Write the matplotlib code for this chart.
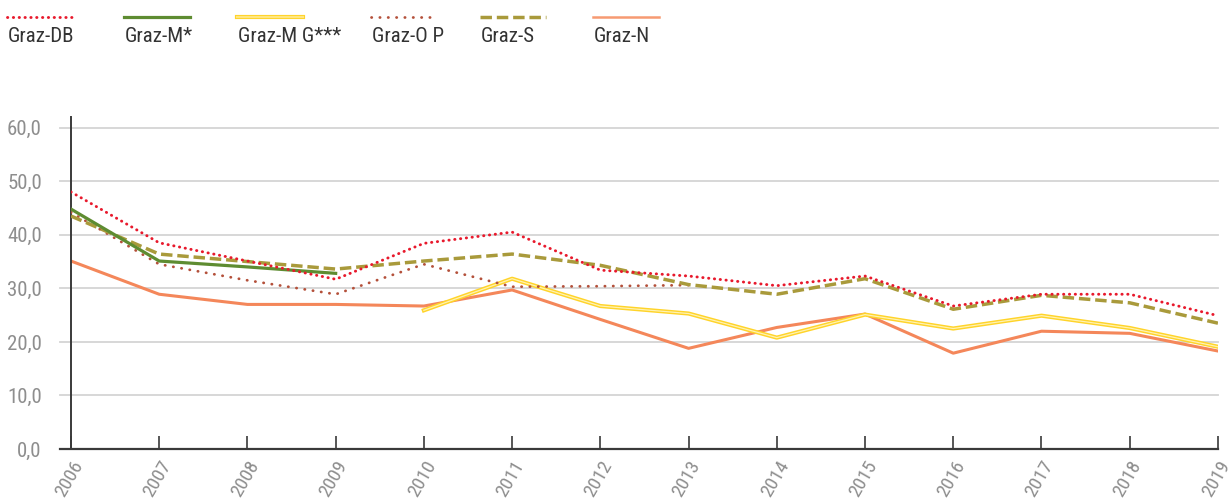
import matplotlib
matplotlib.use("Agg")
import matplotlib.pyplot as plt
from matplotlib.lines import Line2D
from matplotlib.ticker import FuncFormatter

plt.rcParams['font.family'] = ['Roboto Condensed', 'DejaVu Sans']

# Werte
years = list(range(2006, 2020))
graz_db = [48.0, 38.5, 35.1, 31.7, 38.4, 40.5, 33.4, 32.3, 30.5, 32.3, 26.7, 28.9, 28.9, 24.9]
graz_m = [44.8, 35.1, 34.0, 32.8]
graz_mg = [25.9, 31.8, 26.7, 25.3, 20.8, 25.1, 22.5, 24.9, 22.6, 19.1]
graz_op = [44.2, 34.5, 31.5, 28.9, 34.5, 30.3, 30.4, 30.6]
graz_s = [43.5, 36.4, 35.0, 33.6, 35.1, 36.4, 34.3, 30.7, 28.9, 31.8, 26.1, 28.7, 27.3, 23.5]
graz_n = [35.1, 28.9, 27.0, 27.0, 26.7, 29.7, 24.2, 18.8, 22.7, 25.2, 17.9, 22.0, 21.6, 18.3]
labels = ['Graz-DB', 'Graz-M*', 'Graz-M G***', 'Graz-O P', 'Graz-S', 'Graz-N']
yticks = [0, 10, 20, 30, 40, 50, 60]

# Linienstile je Messstelle
styles = [
    dict(color='#E8192C', lw=2.1, ls=(0, (0.1, 1.9)), dash_capstyle='round'),
    dict(color='#5E8C31', lw=2.3, ls='-'),
    dict(color='#FFD42A', lw=3.0, ls='-'),
    dict(color='#B4503A', lw=2.0, ls=(0, (0.1, 2.9)), dash_capstyle='round'),
    dict(color='#A99A3B', lw=2.5, ls=(0, (3.3, 1.4))),
    dict(color='#F4875A', lw=2.2, ls='-'),
]

fig = plt.figure(figsize=(12.3, 5.04), dpi=100)
ax = fig.add_axes([0.0577, 0.109, 0.9325, 0.659])

gridc = '#D4D4D4'
for y in yticks[1:]:
    ax.axhline(y, xmin=-0.0096, xmax=1, color=gridc, lw=1.3, clip_on=False, zorder=0)

# Reihenfolge wie im Original: N unten, DB oben
ax.plot(years, graz_n, zorder=2, **styles[5])
ax.plot(years[4:], graz_mg, zorder=3, **styles[2])
ax.plot(years[4:], graz_mg, color='#FFF2B3', lw=0.9, zorder=3)
ax.plot(years[:len(graz_op)], graz_op, zorder=4, **styles[3])
ax.plot(years, graz_s, zorder=5, **styles[4])
ax.plot(years[:len(graz_m)], graz_m, zorder=6, **styles[1])
ax.plot(years, graz_db, zorder=7, **styles[0])

ax.set_xlim(2006, 2019)
ax.set_ylim(0, 62)
for s in ['top', 'right', 'bottom']:
    ax.spines[s].set_visible(False)
ax.spines['left'].set_color('#3A3A3A')
ax.spines['left'].set_linewidth(1.4)
ax.axhline(0, xmin=-0.0096, xmax=1, color='#3A3A3A', lw=1.6, clip_on=False, zorder=8)

ax.set_yticks(yticks)
ax.yaxis.set_major_formatter(FuncFormatter(lambda v, p: f'{v:.1f}'.replace('.', ',')))
ax.tick_params(axis='y', length=0, pad=21, labelsize=15, labelcolor='#8E8E8E')
ax.set_xticks(years)
ax.tick_params(axis='x', direction='in', length=9.5, width=1.2, color='#3A3A3A',
               pad=6, labelsize=14, labelcolor='#8E8E8E')
for lab in ax.get_xticklabels():
    lab.set_rotation(60)
    lab.set_ha('right')
    lab.set_va('top')
    lab.set_rotation_mode('anchor')

# Legende oben: Linie, darunter Beschriftung
leg_x = [7, 124, 237, 371, 480, 593]
W, H = 1230, 504
for x0, lab, st in zip(leg_x, labels, styles):
    st = dict(st)
    if lab == 'Graz-N':
        st.update(color='#F79A72', lw=1.8)
    fig.add_artist(Line2D([x0 / W, (x0 + 66) / W], [1 - 16.5 / H, 1 - 16.5 / H],
                          transform=fig.transFigure, **st))
    if lab == 'Graz-M G***':
        fig.add_artist(Line2D([x0 / W, (x0 + 66) / W], [1 - 16.5 / H, 1 - 16.5 / H],
                              transform=fig.transFigure, color='#FFE680', lw=1.5))
    fig.text((x0 + 1) / W, 1 - 41.5 / H, lab, fontsize=15, color='#333333', ha='left', va='baseline')

fig.savefig('out.png')
